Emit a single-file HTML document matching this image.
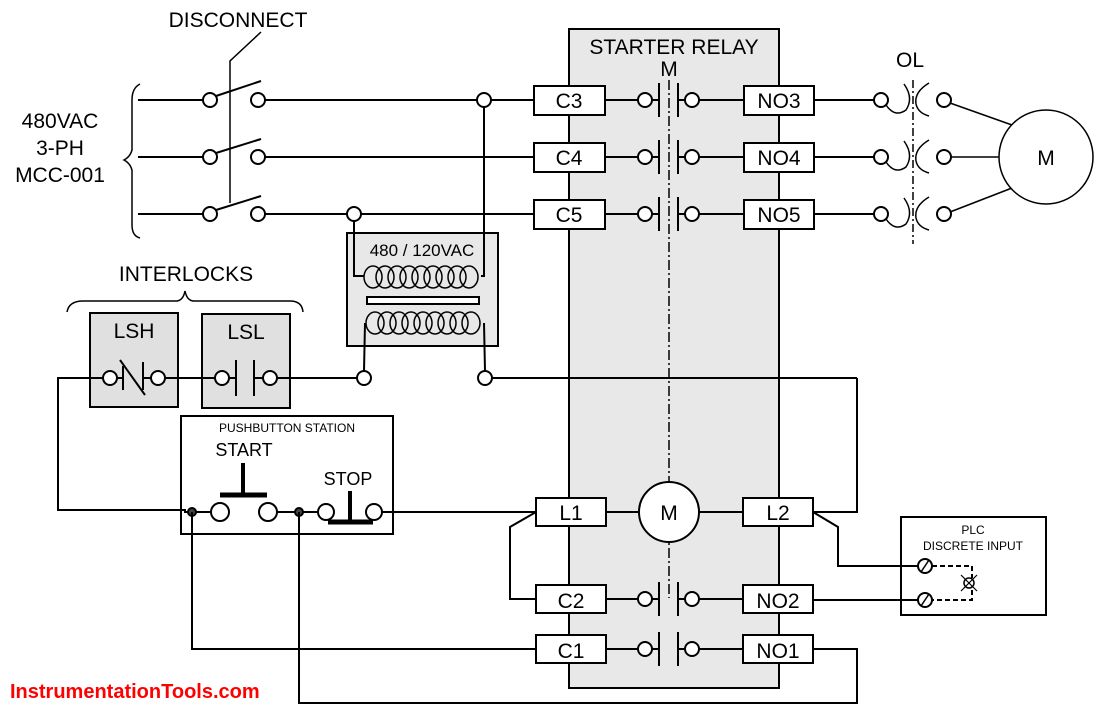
<!DOCTYPE html>
<html><head><style>body{margin:0;background:#fff}svg{display:block}text{font-family:"Liberation Sans",Arial,sans-serif;fill:#000}</style></head><body>
<svg width="1100" height="712" viewBox="0 0 1100 712" xmlns="http://www.w3.org/2000/svg" stroke="#000" stroke-width="2" fill="none">
<!-- starter relay -->
<rect x="569" y="29" width="210" height="659" fill="#e8e8e8"/>
<text x="674" y="54" font-size="21" text-anchor="middle" stroke="none">STARTER RELAY</text>
<text x="669" y="76" font-size="21" text-anchor="middle" stroke="none">M</text>
<line x1="669" y1="80" x2="669" y2="598" stroke-dasharray="10,3,2,3" stroke-width="1.5"/>
<!-- brace -->
<path d="M140,84 Q132,88 132,100 L132,150 Q130,157 124,160 Q130,163 132,170 L132,225 Q132,236 140,238" stroke-width="1.5"/>
<text x="60" y="128" font-size="21" text-anchor="middle" stroke="none">480VAC</text>
<text x="60" y="155" font-size="21" text-anchor="middle" stroke="none">3-PH</text>
<text x="60" y="182" font-size="21" text-anchor="middle" stroke="none">MCC-001</text>
<text x="238" y="27" font-size="21" text-anchor="middle" stroke="none">DISCONNECT</text>
<polyline points="261,32 230,61 230,203" stroke-width="1.5"/>
<g>
<line x1="138" y1="100" x2="203" y2="100"/><line x1="138" y1="157" x2="203" y2="157"/><line x1="138" y1="214" x2="203" y2="214"/>
<circle cx="210" cy="100" r="7" fill="#fff"/><circle cx="258" cy="100" r="7" fill="#fff"/>
<circle cx="210" cy="157" r="7" fill="#fff"/><circle cx="258" cy="157" r="7" fill="#fff"/>
<circle cx="210" cy="214" r="7" fill="#fff"/><circle cx="258" cy="214" r="7" fill="#fff"/>
<line x1="216" y1="96" x2="261" y2="81"/><line x1="216" y1="153" x2="261" y2="139"/><line x1="216" y1="210" x2="261" y2="196"/>
<line x1="265" y1="100" x2="477" y2="100"/><line x1="491" y1="100" x2="534" y2="100"/>
<line x1="265" y1="157" x2="534" y2="157"/>
<line x1="265" y1="214" x2="347" y2="214"/><line x1="361" y1="214" x2="534" y2="214"/>
</g>
<!-- transformer -->
<rect x="347" y="233" width="151" height="113" fill="#e8e8e8"/>
<text x="422" y="256" font-size="17" text-anchor="middle" stroke="none">480 / 120VAC</text>
<polyline points="354,221 354,276 364,276"/>
<polyline points="484,107 484,276 481,276"/>
<g stroke-width="1.5">
<ellipse cx="373" cy="277" rx="9" ry="11"/><ellipse cx="385" cy="277" rx="9" ry="11"/><ellipse cx="397" cy="277" rx="9" ry="11"/><ellipse cx="409" cy="277" rx="9" ry="11"/><ellipse cx="421" cy="277" rx="9" ry="11"/><ellipse cx="433" cy="277" rx="9" ry="11"/><ellipse cx="445" cy="277" rx="9" ry="11"/><ellipse cx="457" cy="277" rx="9" ry="11"/><ellipse cx="469" cy="277" rx="9" ry="11"/>
<ellipse cx="375" cy="323" rx="9" ry="11"/><ellipse cx="387" cy="323" rx="9" ry="11"/><ellipse cx="399" cy="323" rx="9" ry="11"/><ellipse cx="411" cy="323" rx="9" ry="11"/><ellipse cx="423" cy="323" rx="9" ry="11"/><ellipse cx="435" cy="323" rx="9" ry="11"/><ellipse cx="447" cy="323" rx="9" ry="11"/><ellipse cx="459" cy="323" rx="9" ry="11"/><ellipse cx="471" cy="323" rx="9" ry="11"/>
</g>
<rect x="367" y="297" width="112" height="7" fill="#fff"/>
<line x1="365" y1="323" x2="364" y2="371"/>
<line x1="484" y1="323" x2="485" y2="371"/>
<circle cx="484" cy="100" r="7" fill="#fff"/><circle cx="354" cy="214" r="7" fill="#fff"/>
<circle cx="364" cy="378" r="7" fill="#fff"/><circle cx="485" cy="378" r="7" fill="#fff"/>
<!-- interlocks -->
<text x="186" y="281" font-size="21" text-anchor="middle" stroke="none">INTERLOCKS</text>
<path d="M67,312 Q69,301 83,301 L176,301 Q183,301 185,291 Q187,301 194,301 L290,301 Q302,301 303,312" stroke-width="1.5"/>
<rect x="90" y="313" width="88" height="94" fill="#e0e0e0"/>
<rect x="202" y="314" width="88" height="94" fill="#e0e0e0"/>
<text x="134" y="338" font-size="21" text-anchor="middle" stroke="none">LSH</text>
<text x="246" y="339" font-size="21" text-anchor="middle" stroke="none">LSL</text>
<polyline points="103,378 58,378 58,510 186,510"/>
<circle cx="110" cy="378" r="7" fill="#fff"/><circle cx="158" cy="378" r="7" fill="#fff"/>
<line x1="117" y1="378" x2="123" y2="378"/><line x1="123" y1="366" x2="123" y2="390"/><line x1="143" y1="362" x2="143" y2="390"/><line x1="120" y1="360" x2="145" y2="395"/><line x1="143" y1="378" x2="151" y2="378"/>
<line x1="165" y1="378" x2="215" y2="378"/>
<circle cx="222" cy="378" r="7" fill="#fff"/><circle cx="270" cy="378" r="7" fill="#fff"/>
<line x1="229" y1="378" x2="236" y2="378"/><line x1="236" y1="360" x2="236" y2="396"/><line x1="254" y1="360" x2="254" y2="396"/><line x1="254" y1="378" x2="263" y2="378"/>
<line x1="277" y1="378" x2="357" y2="378"/>
<line x1="492" y1="378" x2="857" y2="378"/>
<polyline points="857,378 857,512 813,512"/>
<!-- pushbutton -->
<rect x="181" y="416" width="212" height="118"/>
<text x="287" y="432" font-size="12" text-anchor="middle" stroke="none">PUSHBUTTON STATION</text>
<text x="244" y="456" font-size="18" text-anchor="middle" stroke="none">START</text>
<text x="348" y="485" font-size="18" text-anchor="middle" stroke="none">STOP</text>
<line x1="243" y1="463" x2="243" y2="495" stroke-width="4"/><line x1="220" y1="495" x2="267" y2="495" stroke-width="5"/>
<line x1="350" y1="491" x2="350" y2="522" stroke-width="4"/><line x1="328" y1="522" x2="373" y2="522" stroke-width="5"/>
<line x1="184" y1="512" x2="210" y2="512"/>
<circle cx="220" cy="512" r="9" fill="#fff"/><circle cx="268" cy="512" r="9" fill="#fff"/>
<line x1="277" y1="512" x2="318" y2="512"/>
<circle cx="326" cy="512" r="8" fill="#fff"/><circle cx="374" cy="512" r="8" fill="#fff"/>
<line x1="382" y1="512" x2="536" y2="512"/>
<circle cx="192" cy="512" r="4" fill="#444"/><circle cx="299" cy="512" r="4" fill="#444"/>
<polyline points="192,512 192,649 536,649"/>
<polyline points="299,512 299,703 857,703 857,649 813,649"/>
<!-- L1 M L2 -->
<line x1="606" y1="512" x2="638" y2="512"/><line x1="698" y1="512" x2="742" y2="512"/>
<circle cx="669" cy="512" r="30" fill="#fff"/>
<text x="669" y="520" font-size="21" text-anchor="middle" stroke="none">M</text>
<polyline points="536,512 510,527 510,599 536,599"/>
<polyline points="813,512 838,527 838,566 918,566"/>
<!-- PLC -->
<rect x="901" y="517" width="145" height="98"/>
<text x="973" y="534" font-size="12" text-anchor="middle" stroke="none">PLC</text>
<text x="973" y="550" font-size="12" text-anchor="middle" stroke="none">DISCRETE INPUT</text>
<line x1="813" y1="600" x2="918" y2="600"/>
<polyline points="932,566 972,566 972,600 932,600" stroke-dasharray="5,3"/>
<circle cx="925" cy="566" r="7" fill="#fff"/><circle cx="925" cy="600" r="7" fill="#fff"/>
<line x1="921" y1="572" x2="929" y2="560" stroke-width="1.5"/><line x1="921" y1="606" x2="929" y2="594" stroke-width="1.5"/>
<rect x="964" y="578" width="10" height="10" fill="#fff" stroke="none"/>
<circle cx="969" cy="583" r="5" fill="#fff" stroke-width="1.5"/>
<g stroke-width="1.2"><line x1="961" y1="575" x2="977" y2="591"/><line x1="977" y1="575" x2="961" y2="591"/></g>
<!-- contacts -->
<g>
<line x1="605" y1="100" x2="638" y2="100"/><line x1="605" y1="157" x2="638" y2="157"/><line x1="605" y1="214" x2="638" y2="214"/><line x1="605" y1="599" x2="638" y2="599"/><line x1="605" y1="649" x2="638" y2="649"/>
<line x1="699" y1="100" x2="744" y2="100"/><line x1="699" y1="157" x2="744" y2="157"/><line x1="699" y1="214" x2="744" y2="214"/><line x1="699" y1="599" x2="744" y2="599"/><line x1="699" y1="649" x2="744" y2="649"/>
</g>
<g fill="#fff">
<circle cx="645" cy="100" r="7"/><circle cx="692" cy="100" r="7"/>
<circle cx="645" cy="157" r="7"/><circle cx="692" cy="157" r="7"/>
<circle cx="645" cy="214" r="7"/><circle cx="692" cy="214" r="7"/>
<circle cx="645" cy="599" r="7"/><circle cx="692" cy="599" r="7"/>
<circle cx="645" cy="649" r="7"/><circle cx="692" cy="649" r="7"/>
</g>
<g>
<line x1="659" y1="83" x2="659" y2="117"/><line x1="678" y1="83" x2="678" y2="117"/><line x1="652" y1="100" x2="659" y2="100"/><line x1="678" y1="100" x2="685" y2="100"/>
<line x1="659" y1="140" x2="659" y2="174"/><line x1="678" y1="140" x2="678" y2="174"/><line x1="652" y1="157" x2="659" y2="157"/><line x1="678" y1="157" x2="685" y2="157"/>
<line x1="659" y1="197" x2="659" y2="231"/><line x1="678" y1="197" x2="678" y2="231"/><line x1="652" y1="214" x2="659" y2="214"/><line x1="678" y1="214" x2="685" y2="214"/>
<line x1="659" y1="582" x2="659" y2="616"/><line x1="678" y1="582" x2="678" y2="616"/><line x1="652" y1="599" x2="659" y2="599"/><line x1="678" y1="599" x2="685" y2="599"/>
<line x1="659" y1="632" x2="659" y2="666"/><line x1="678" y1="632" x2="678" y2="666"/><line x1="652" y1="649" x2="659" y2="649"/><line x1="678" y1="649" x2="685" y2="649"/>
</g>
<g fill="#fff">
<rect x="534" y="86" width="71" height="29"/><rect x="744" y="86" width="70" height="29"/>
<rect x="534" y="143" width="71" height="29"/><rect x="744" y="143" width="70" height="29"/>
<rect x="534" y="200" width="71" height="29"/><rect x="744" y="200" width="70" height="29"/>
<rect x="536" y="498" width="70" height="28"/><rect x="743" y="498" width="70" height="28"/>
<rect x="536" y="585" width="70" height="28"/><rect x="743" y="585" width="70" height="28"/>
<rect x="536" y="635" width="70" height="28"/><rect x="743" y="635" width="70" height="28"/>
</g>
<g font-size="21" text-anchor="middle" stroke="none">
<text x="569" y="108">C3</text><text x="779" y="108">NO3</text>
<text x="569" y="165">C4</text><text x="779" y="165">NO4</text>
<text x="569" y="222">C5</text><text x="779" y="222">NO5</text>
<text x="571" y="520">L1</text><text x="778" y="520">L2</text>
<text x="571" y="608">C2</text><text x="778" y="608">NO2</text>
<text x="571" y="658">C1</text><text x="778" y="658">NO1</text>
</g>
<!-- OL -->
<text x="910" y="67" font-size="21" text-anchor="middle" stroke="none">OL</text>
<line x1="913" y1="80" x2="913" y2="244" stroke-dasharray="8,3,2,3" stroke-width="1.5"/>
<line x1="814" y1="100" x2="874" y2="100"/><line x1="814" y1="157" x2="874" y2="157"/><line x1="814" y1="214" x2="874" y2="214"/>
<g stroke-width="1.5">
<path d="M886,105 Q895,118 906,110 Q914,98 904,84"/><path d="M929,83 Q914,92 916,104 Q918,113 929,116"/>
<path d="M886,162 Q895,175 906,167 Q914,155 904,141"/><path d="M929,140 Q914,149 916,161 Q918,170 929,173"/>
<path d="M886,219 Q895,232 906,224 Q914,212 904,198"/><path d="M929,197 Q914,206 916,218 Q918,227 929,230"/>
<line x1="950" y1="103" x2="1012" y2="125"/><line x1="950" y1="157" x2="1000" y2="157"/><line x1="950" y1="212" x2="1012" y2="188"/>
</g>
<g fill="#fff">
<circle cx="881" cy="100" r="7"/><circle cx="944" cy="100" r="7"/>
<circle cx="881" cy="157" r="7"/><circle cx="944" cy="157" r="7"/>
<circle cx="881" cy="214" r="7"/><circle cx="944" cy="214" r="7"/>
</g>
<circle cx="1046" cy="157" r="47" fill="#fff" stroke-width="1.5"/>
<text x="1046" y="165" font-size="21" text-anchor="middle" stroke="none">M</text>
<text x="10" y="698" font-size="20" font-weight="bold" stroke="none" style="fill:#ff0000">InstrumentationTools.com</text>
</svg>
</body></html>
